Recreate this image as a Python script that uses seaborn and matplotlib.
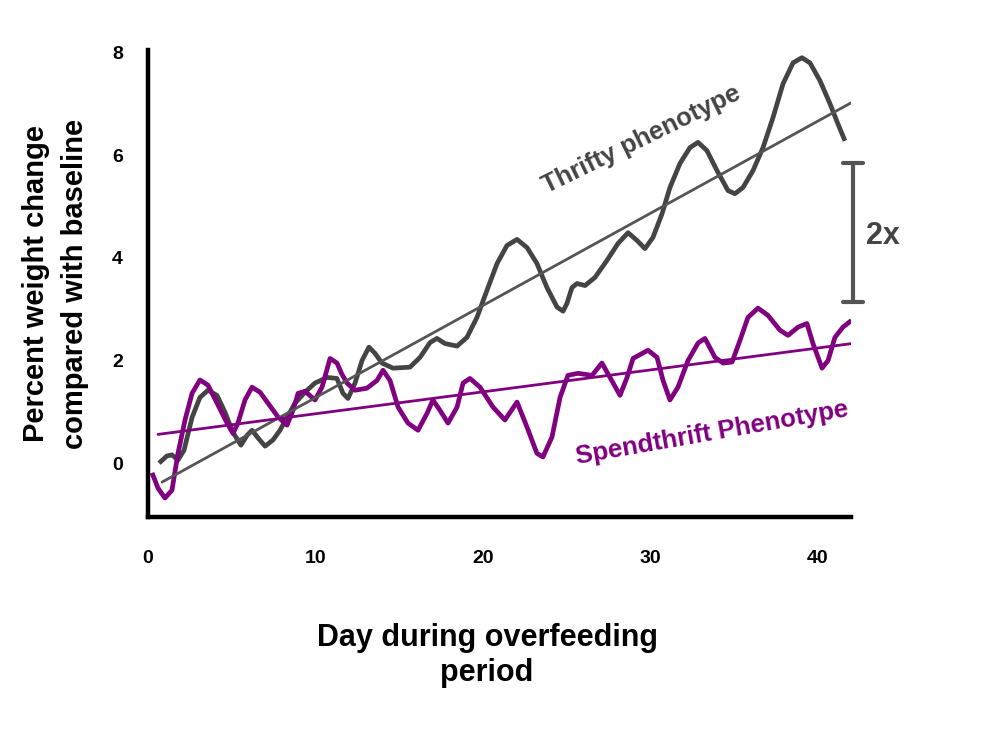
import seaborn as sns
import matplotlib
matplotlib.use("Agg")
import matplotlib.pyplot as plt
import numpy as np
import pandas as pd

# thrifty phenotype curve (day, % weight change)
thrifty_day = [0.66, 1.13, 1.43, 1.79, 2.15, 2.63, 3.10, 3.58, 4.12, 4.60,
               5.07, 5.55, 5.91, 6.21, 6.57, 6.99, 7.46, 7.88, 8.30, 8.78,
               9.37, 9.97, 10.69, 11.28, 11.64, 11.94, 12.36, 12.78, 13.19,
               13.55, 13.97, 14.63, 15.64, 16.24, 16.84, 17.25, 17.73, 18.45,
               19.04, 19.64, 20.24, 20.84, 21.43, 22.03, 22.63, 23.22, 23.82,
               24.42, 24.78, 25.01, 25.31, 25.61, 26.09, 26.69, 27.40, 28.06,
               28.66, 29.19, 29.67, 30.15, 30.69, 31.16, 31.76, 32.36, 32.84,
               33.37, 33.97, 34.63, 35.04, 35.52, 36.12, 36.72, 37.31, 37.91,
               38.51, 39.04, 39.52, 40.12, 40.72, 41.19, 41.61]
thrifty_pct = [0.00, 0.14, 0.16, 0.06, 0.25, 0.89, 1.28, 1.42, 1.32, 0.99,
               0.60, 0.35, 0.54, 0.64, 0.49, 0.33, 0.45, 0.64, 0.89, 1.17,
               1.38, 1.56, 1.67, 1.65, 1.36, 1.26, 1.56, 2.00, 2.26,
               2.14, 1.95, 1.85, 1.87, 2.06, 2.35, 2.43, 2.33, 2.28,
               2.45, 2.84, 3.37, 3.89, 4.24, 4.36, 4.20, 3.89, 3.42,
               3.04, 2.96, 3.11, 3.42, 3.50, 3.46, 3.62, 3.95, 4.28,
               4.49, 4.34, 4.18, 4.40, 4.86, 5.37, 5.84, 6.15, 6.25,
               6.09, 5.70, 5.31, 5.25, 5.37, 5.70, 6.15, 6.73, 7.39,
               7.80, 7.90, 7.80, 7.45, 7.00, 6.61, 6.28]

# spendthrift phenotype curve
spend_day = [0.24, 0.60, 1.01, 1.43, 1.79, 2.21, 2.63, 3.10, 3.58, 4.12,
             4.72, 5.07, 5.37, 5.79, 6.21, 6.69, 7.16, 7.76, 8.30, 8.66,
             8.96, 9.37, 9.97, 10.39, 10.87, 11.28, 11.58, 11.88, 12.36,
             13.07, 13.67, 14.03, 14.45, 14.93, 15.52, 16.12, 16.66, 17.01,
             17.43, 17.91, 18.45, 18.81, 19.22, 19.82, 20.60, 21.31, 22.03,
             22.63, 23.22, 23.58, 24.12, 24.60, 25.07, 25.67, 26.51, 27.10,
             27.58, 28.18, 28.60, 28.96, 29.85, 30.39, 30.75, 31.16, 31.64,
             32.24, 32.84, 33.25, 33.85, 34.33, 34.87, 35.34, 35.82, 36.42,
             37.01, 37.73, 38.21, 38.81, 39.34, 39.70, 40.24, 40.60, 41.01,
             41.49, 42.0]
spend_pct = [-0.19, -0.49, -0.68, -0.53, 0.19, 0.84, 1.36, 1.62, 1.52, 1.17,
             0.78, 0.58, 0.78, 1.23, 1.48, 1.38, 1.17, 0.90, 0.74, 1.03,
             1.36, 1.40, 1.23, 1.48, 2.04, 1.95, 1.73, 1.56, 1.42,
             1.46, 1.61, 1.81, 1.61, 1.09, 0.78, 0.64, 0.97, 1.23,
             1.03, 0.78, 1.09, 1.56, 1.65, 1.48, 1.09, 0.84, 1.19,
             0.70, 0.19, 0.12, 0.51, 1.28, 1.71, 1.75, 1.71, 1.95,
             1.67, 1.32, 1.67, 2.04, 2.20, 2.06, 1.61, 1.23, 1.48,
             2.00, 2.34, 2.43, 2.06, 1.95, 1.97, 2.39, 2.84, 3.02,
             2.88, 2.59, 2.49, 2.65, 2.72, 2.33, 1.85, 2.00, 2.45,
             2.65, 2.78]

# straight trend lines (end points)
thrifty_trend_day = [0.84, 41.97]
thrifty_trend_pct = [-0.37, 7.02]
spend_trend_day = [0.60, 42.03]
spend_trend_pct = [0.56, 2.33]

# "2x" bracket
bracket_day = 42.09
bracket_lo, bracket_hi = 3.13, 5.84

x_ticks = [0, 10, 20, 30, 40]
y_ticks = [0, 2, 4, 6, 8]

DARK = "#444444"
TREND = "#555555"
PURPLE = "#800080"

sns.set_style("white")
plt.rcParams["font.family"] = ["Liberation Sans", "DejaVu Sans"]

fig = plt.figure(figsize=(9.94, 7.32), dpi=100)
ax = fig.add_axes([148 / 994, 1 - 517 / 732, (851.5 - 148) / 994, (517 - 50) / 732])

thrifty = pd.DataFrame({"day": thrifty_day, "pct": thrifty_pct})
spend = pd.DataFrame({"day": spend_day, "pct": spend_pct})

sns.lineplot(data=thrifty, x="day", y="pct", ax=ax, color=DARK, linewidth=3.4,
             sort=False, estimator=None, solid_joinstyle="round",
             solid_capstyle="butt")
sns.lineplot(data=spend, x="day", y="pct", ax=ax, color=PURPLE, linewidth=3.4,
             sort=False, estimator=None, solid_joinstyle="round",
             solid_capstyle="butt")
ax.plot(thrifty_trend_day, thrifty_trend_pct, color=TREND, linewidth=2)
ax.plot(spend_trend_day, spend_trend_pct, color=PURPLE, linewidth=2)

# bracket showing 2x difference
ax.plot([bracket_day, bracket_day], [bracket_lo, bracket_hi], color=TREND,
        linewidth=3, clip_on=False)
for yv in (bracket_lo, bracket_hi):
    ax.plot([bracket_day - 0.6, bracket_day + 0.6], [yv, yv], color=TREND,
            linewidth=3, clip_on=False)
ax.text(bracket_day + 0.75, (bracket_lo + bracket_hi) / 2 - 0.05, "2x",
        fontsize=22, fontweight="bold", color=DARK, va="center",
        ha="left", clip_on=False)

ax.text(29.45, 6.3, "Thrifty phenotype", rotation=26, fontsize=18.5,
        fontweight="bold", color=DARK, ha="center", va="center")
ax.text(33.7, 0.58, "Spendthrift Phenotype", rotation=10, fontsize=18.5,
        fontweight="bold", color=PURPLE, ha="center", va="center")

ax.set_xlim(0, 42)
ax.set_ylim(-1.05, 8.05)
ax.set_xticks(x_ticks)
ax.set_yticks(y_ticks)
ax.tick_params(axis="x", length=0, labelsize=14, pad=24, labelcolor="black")
ax.tick_params(axis="y", length=0, labelsize=14, pad=18, labelcolor="black")
for lab in ax.get_xticklabels() + ax.get_yticklabels():
    lab.set_fontweight("bold")

for side in ("top", "right"):
    ax.spines[side].set_visible(False)
for side in ("left", "bottom"):
    ax.spines[side].set_color("black")
    ax.spines[side].set_linewidth(3.2)

ax.set_xlabel("Day during overfeeding\nperiod", fontsize=22, color="black",
              fontweight="bold", labelpad=40, linespacing=1.25)
ax.xaxis.set_label_coords(0.482, -0.226)
ax.set_ylabel("Percent weight change\ncompared with baseline", fontsize=21,
              color="black", fontweight="bold", labelpad=17, linespacing=1.5)

fig.savefig("out.png", dpi=100)
